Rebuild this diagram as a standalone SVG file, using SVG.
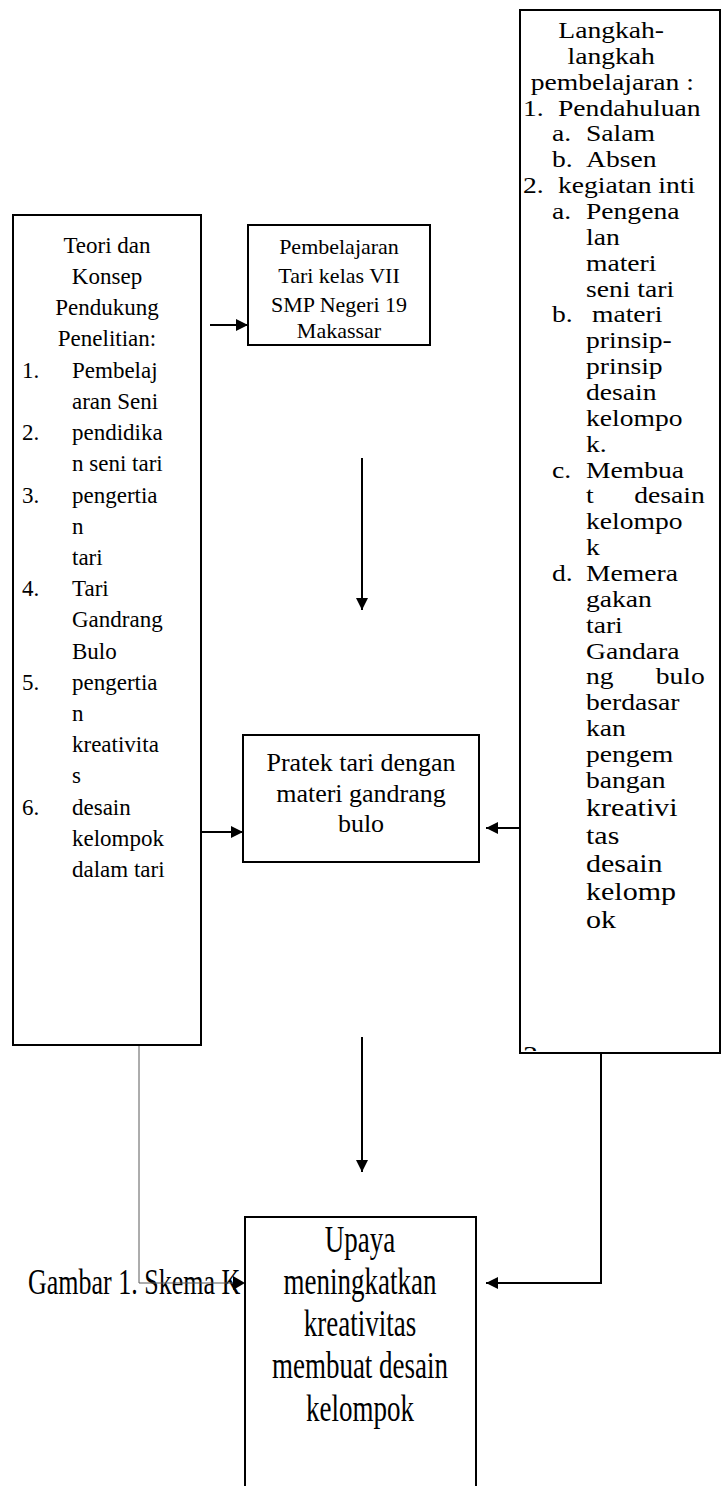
<svg xmlns="http://www.w3.org/2000/svg" width="726" height="1486" viewBox="0 0 726 1486">
  <style>
    .box { fill: #ffffff; stroke: #000000; stroke-width: 2; }
    .t { font-family: "Liberation Serif", "Times New Roman", serif; fill: #000000; }
    .c { text-anchor: middle; }
    .e { text-anchor: end; }
    .ln { stroke: #000000; stroke-width: 2; fill: none; }
    .thin { stroke: #5a5a5a; stroke-width: 1; fill: none; }
    .big { font-size: 25px; }
  </style>
  <defs>
    <marker id="arrow" viewBox="0 0 12 12" refX="12" refY="6" markerWidth="12" markerHeight="12" markerUnits="userSpaceOnUse" orient="auto">
      <path d="M0,0 L12,6 L0,12 Z" fill="#000000"/>
    </marker>
    <clipPath id="stepsClip">
      <rect x="521" y="11" width="198" height="1040"/>
    </clipPath>
  </defs>

  <!-- caption, partly covered by the result box -->
  <text class="t" transform="translate(28,1294) scale(1,1.35)" x="0" y="0" style="font-size:26px">Gambar 1. Skema K</text>

  <!-- connectors -->
  <g id="connectors">
    <line class="ln" x1="210" y1="325" x2="248" y2="325" marker-end="url(#arrow)"/>
    <line class="ln" x1="362" y1="458" x2="362" y2="610" marker-end="url(#arrow)"/>
    <line class="ln" x1="201" y1="832" x2="243" y2="832" marker-end="url(#arrow)"/>
    <line class="ln" x1="520" y1="828" x2="486" y2="828" marker-end="url(#arrow)"/>
    <line class="ln" x1="362" y1="1037" x2="362" y2="1172" marker-end="url(#arrow)"/>
    <path class="thin" d="M35,1043.5 H139 V1283 H236"/>
    <path d="M233,1276 L245,1283 L233,1290 Z" fill="#000000"/>
    <polyline class="ln" points="601,1053 601,1283 486,1283" marker-end="url(#arrow)"/>
  </g>

  <!-- left: supporting theory -->
  <g id="theory" style="font-size:23px">
    <rect class="box" x="13" y="215" width="188" height="830"/>
    <text class="t c" x="107" y="253">Teori dan</text>
    <text class="t c" x="107" y="284">Konsep</text>
    <text class="t c" x="107" y="315">Pendukung</text>
    <text class="t c" x="107" y="346">Penelitian:</text>
    <text class="t" x="22" y="378">1.</text><text class="t" x="72" y="378">Pembelaj</text>
    <text class="t" x="72" y="409">aran Seni</text>
    <text class="t" x="22" y="440">2.</text><text class="t" x="72" y="440">pendidika</text>
    <text class="t" x="72" y="471">n seni tari</text>
    <text class="t" x="22" y="503">3.</text><text class="t" x="72" y="503">pengertia</text>
    <text class="t" x="72" y="534">n</text>
    <text class="t" x="72" y="565">tari</text>
    <text class="t" x="22" y="596">4.</text><text class="t" x="72" y="596">Tari</text>
    <text class="t" x="72" y="627">Gandrang</text>
    <text class="t" x="72" y="659">Bulo</text>
    <text class="t" x="22" y="690">5.</text><text class="t" x="72" y="690">pengertia</text>
    <text class="t" x="72" y="721">n</text>
    <text class="t" x="72" y="752">kreativita</text>
    <text class="t" x="72" y="783">s</text>
    <text class="t" x="22" y="815">6.</text><text class="t" x="72" y="815">desain</text>
    <text class="t" x="72" y="846">kelompok</text>
    <text class="t" x="72" y="877">dalam tari</text>
  </g>

  <!-- top middle: learning context -->
  <g id="learning" style="font-size:22px">
    <rect class="box" x="248" y="225" width="182" height="120"/>
    <text class="t c" x="339" y="254">Pembelajaran</text>
    <text class="t c" x="339" y="283">Tari kelas VII</text>
    <text class="t c" x="339" y="312">SMP Negeri 19</text>
    <text class="t c" x="339" y="338">Makassar</text>
  </g>

  <!-- middle: practice -->
  <g id="practice" style="font-size:26px">
    <rect class="box" x="243" y="735" width="236" height="127"/>
    <text class="t c" x="361" y="771">Pratek tari dengan</text>
    <text class="t c" x="361" y="802">materi gandrang</text>
    <text class="t c" x="361" y="832">bulo</text>
  </g>

  <!-- right: learning steps (text box widened) -->
  <g id="steps">
    <rect class="box" x="520" y="10" width="200" height="1043"/>
    <g clip-path="url(#stepsClip)">
      <g transform="translate(520,0) scale(1.2,1) translate(-520,0)" style="font-size:23px">
        <text class="t c" x="596" y="38">Langkah-</text>
        <text class="t c" x="596" y="63.9">langkah</text>
        <text class="t c" x="597" y="89.7">pembelajaran :</text>
        <text class="t" x="522.5" y="115.6">1.</text><text class="t" x="551.7" y="115.6">Pendahuluan</text>
        <text class="t" x="546.7" y="141.4">a.</text><text class="t" x="575" y="141.4">Salam</text>
        <text class="t" x="546.7" y="167.3">b.</text><text class="t" x="575" y="167.3">Absen</text>
        <text class="t" x="522.5" y="193.2">2.</text><text class="t" x="551.7" y="193.2">kegiatan inti</text>
        <text class="t" x="546.7" y="219">a.</text><text class="t" x="575" y="219">Pengena</text>
        <text class="t" x="575" y="244.9">lan</text>
        <text class="t" x="575" y="270.7">materi</text>
        <text class="t" x="575" y="296.6">seni tari</text>
        <text class="t" x="546.7" y="322.5">b.</text><text class="t" x="580" y="322.5">materi</text>
        <text class="t" x="575" y="348.3">prinsip-</text>
        <text class="t" x="575" y="374.2">prinsip</text>
        <text class="t" x="575" y="400">desain</text>
        <text class="t" x="575" y="425.9">kelompo</text>
        <text class="t" x="575" y="451.8">k.</text>
        <text class="t" x="546.7" y="477.6">c.</text><text class="t" x="575" y="477.6">Membua</text>
        <text class="t" x="575" y="503.5">t</text><text class="t e" x="674" y="503.5">desain</text>
        <text class="t" x="575" y="529.3">kelompo</text>
        <text class="t" x="575" y="555.2">k</text>
        <text class="t" x="546.7" y="581.1">d.</text><text class="t" x="575" y="581.1">Memera</text>
        <text class="t" x="575" y="606.9">gakan</text>
        <text class="t" x="575" y="632.8">tari</text>
        <text class="t" x="575" y="658.6">Gandara</text>
        <text class="t" x="575" y="684.5">ng</text><text class="t e" x="674" y="684.5">bulo</text>
        <text class="t" x="575" y="710.4">berdasar</text>
        <text class="t" x="575" y="736.2">kan</text>
        <text class="t" x="575" y="762.1">pengem</text>
        <text class="t" x="575" y="788">bangan</text>
        <text class="t big" x="575" y="816">kreativi</text>
        <text class="t big" x="575" y="844">tas</text>
        <text class="t big" x="575" y="872">desain</text>
        <text class="t big" x="575" y="900">kelomp</text>
        <text class="t big" x="575" y="928">ok</text>
        <text class="t big" x="522.5" y="1064">3.</text>
      </g>
    </g>
  </g>

  <!-- bottom: outcome (text set tall and narrow) -->
  <g id="outcome" style="font-size:27px">
    <rect class="box" x="245" y="1217" width="231" height="280"/>
    <text class="t c" transform="translate(360,1252) scale(1,1.4)" x="0" y="0">Upaya</text>
    <text class="t c" transform="translate(360,1294) scale(1,1.4)" x="0" y="0">meningkatkan</text>
    <text class="t c" transform="translate(360,1336) scale(1,1.4)" x="0" y="0">kreativitas</text>
    <text class="t c" transform="translate(360,1378) scale(1,1.4)" x="0" y="0">membuat desain</text>
    <text class="t c" transform="translate(360,1421) scale(1,1.4)" x="0" y="0">kelompok</text>
  </g>
</svg>
